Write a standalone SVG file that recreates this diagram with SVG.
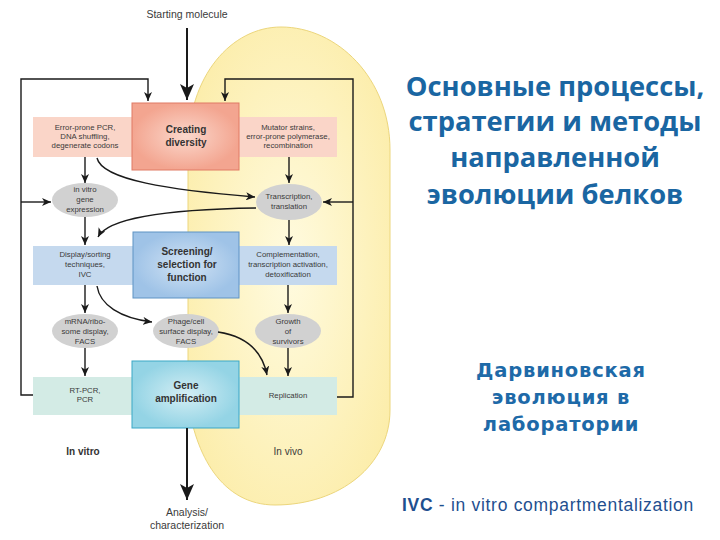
<svg xmlns="http://www.w3.org/2000/svg" width="720" height="540" viewBox="0 0 720 540">
<defs>
<style>
.ln{fill:none;stroke:#1a1a1a;stroke-width:1.4}
.big{fill:none;stroke:#1a1a1a;stroke-width:2}
.t{font-family:"Liberation Sans",Arial,sans-serif;font-size:7.8px;fill:#3a3a3a;text-anchor:middle}
.h{font-family:"Liberation Sans",Arial,sans-serif;font-size:10px;font-weight:bold;fill:#333;text-anchor:middle}
.ell{fill:#d1d1d1}
.title{font-family:"Open Sans","DejaVu Sans",sans-serif;font-weight:bold;font-size:27.3px;fill:#1a66a2;text-anchor:middle}
.sub{font-family:"DejaVu Sans",Verdana,sans-serif;font-weight:bold;font-size:19.5px;letter-spacing:0.8px;fill:#1e6aa8;text-anchor:middle}
</style>
<radialGradient id="gY" cx="50%" cy="50%" r="60%"><stop offset="0" stop-color="#fffbe0"/><stop offset="1" stop-color="#fcedaa"/></radialGradient>
<radialGradient id="gR"><stop offset="0" stop-color="#fbd8cc"/><stop offset="1" stop-color="#f3a590"/></radialGradient>
<radialGradient id="gB"><stop offset="0" stop-color="#d2e3f4"/><stop offset="1" stop-color="#9fc3e7"/></radialGradient>
<radialGradient id="gC"><stop offset="0" stop-color="#d4eef4"/><stop offset="1" stop-color="#94d4e5"/></radialGradient>
<marker id="a" markerUnits="userSpaceOnUse" markerWidth="9" markerHeight="8" refX="9" refY="4" orient="auto"><path d="M0,0 L9,4 L0,8 L2.5,4 Z" fill="#1a1a1a"/></marker>
<marker id="A" markerUnits="userSpaceOnUse" markerWidth="16" markerHeight="14" refX="16" refY="7" orient="auto"><path d="M0,0 L16,7 L0,14 L4,7 Z" fill="#1a1a1a"/></marker>
</defs>
<rect width="720" height="540" fill="#ffffff"/>

<g id="in-vivo-region">
<path d="M188,150 C188,75 232,27 281,27 C337,27 390,78 390,150 L390,410 C390,465 340,505 275,505 C222,505 195,455 188,400 Z" fill="url(#gY)" stroke="#ecd67c" stroke-width="1"/>
</g>

<g id="bands">
<rect x="33" y="117" width="304" height="40" fill="#fad5c8"/>
<rect x="33" y="246" width="304" height="39" fill="#c5d9ee"/>
<rect x="33" y="377" width="304" height="38" fill="#d3ebe5"/>
</g>

<g id="starting-molecule"><text class="t" x="187" y="18" style="font-size:10.5px">Starting molecule</text></g>

<g id="creating-diversity">
<rect x="132" y="103" width="107" height="67" fill="url(#gR)" stroke="#e07a64" stroke-width="1"/>
<text class="h" x="186" y="133">Creating</text>
<text class="h" x="186" y="146">diversity</text>
</g>
<g id="in-vitro-diversity">
<text class="t" x="85" y="130">Error-prone PCR,</text>
<text class="t" x="85" y="139">DNA shuffling,</text>
<text class="t" x="85" y="148">degenerate codons</text>
</g>
<g id="in-vivo-diversity">
<text class="t" x="288" y="130">Mutator strains,</text>
<text class="t" x="288" y="139">error-prone polymerase,</text>
<text class="t" x="288" y="148">recombination</text>
</g>

<g id="gene-expression">
<ellipse class="ell" cx="85" cy="200" rx="33" ry="17"/>
<text class="t" x="85" y="192">in vitro</text>
<text class="t" x="85" y="202">gene</text>
<text class="t" x="85" y="212">expression</text>
</g>
<g id="transcription">
<ellipse class="ell" cx="289" cy="202" rx="33" ry="18"/>
<text class="t" x="289" y="199">Transcription,</text>
<text class="t" x="289" y="209">translation</text>
</g>

<g id="screening">
<rect x="133" y="232" width="106" height="66" fill="url(#gB)" stroke="#5f93c4" stroke-width="1"/>
<text class="h" x="187" y="255">Screening/</text>
<text class="h" x="187" y="268">selection for</text>
<text class="h" x="187" y="281">function</text>
</g>
<g id="display-sorting">
<text class="t" x="85" y="257">Display/sorting</text>
<text class="t" x="85" y="267">techniques,</text>
<text class="t" x="85" y="277">IVC</text>
</g>
<g id="complementation">
<text class="t" x="288" y="257">Complementation,</text>
<text class="t" x="288" y="267">transcription activation,</text>
<text class="t" x="288" y="277">detoxification</text>
</g>

<g id="mrna-display">
<ellipse class="ell" cx="85" cy="331" rx="33" ry="17"/>
<text class="t" x="85" y="324">mRNA/ribo-</text>
<text class="t" x="85" y="334">some display,</text>
<text class="t" x="85" y="344">FACS</text>
</g>
<g id="phage-display">
<ellipse class="ell" cx="186" cy="331" rx="33" ry="17"/>
<text class="t" x="186" y="324">Phage/cell</text>
<text class="t" x="186" y="334">surface display,</text>
<text class="t" x="186" y="344">FACS</text>
</g>
<g id="growth">
<ellipse class="ell" cx="288" cy="331" rx="33" ry="17"/>
<text class="t" x="288" y="324">Growth</text>
<text class="t" x="288" y="334">of</text>
<text class="t" x="288" y="344">survivors</text>
</g>

<g id="gene-amplification">
<rect x="132" y="361" width="107" height="67" fill="url(#gC)" stroke="#3aa7c6" stroke-width="1"/>
<text class="h" x="186" y="389">Gene</text>
<text class="h" x="186" y="402">amplification</text>
</g>
<g id="rt-pcr">
<text class="t" x="85" y="393">RT-PCR,</text>
<text class="t" x="85" y="402">PCR</text>
</g>
<g id="replication"><text class="t" x="288" y="398">Replication</text></g>

<g id="labels">
<text class="h" x="83" y="455">In vitro</text>
<text class="t" x="288" y="455" style="font-size:10px">In vivo</text>
</g>
<g id="analysis">
<text class="t" x="187" y="516" style="font-size:10.5px">Analysis/</text>
<text class="t" x="187" y="529" style="font-size:10.5px">characterization</text>
</g>

<g id="connectors">
<path class="big" d="M187,28 L187,100" marker-end="url(#A)"/>
<path class="ln" d="M33,395 L21,395 L21,79 L148,79 L148,101" marker-end="url(#a)"/>
<path class="ln" d="M21,202 L51,202" marker-end="url(#a)"/>
<path class="ln" d="M337,397 L353,397 L353,79 L225,79 L225,101" marker-end="url(#a)"/>
<path class="ln" d="M353,202 L323,202" marker-end="url(#a)"/>
<path class="ln" d="M85,157 L85,183" marker-end="url(#a)"/>
<path class="ln" d="M289,157 L289,183" marker-end="url(#a)"/>
<path class="ln" d="M97,158 C102,180 170,190 255,197" marker-end="url(#a)"/>
<path class="ln" d="M256,208 C190,209 110,214 98,237" marker-end="url(#a)"/>
<path class="ln" d="M85,217 L85,245" marker-end="url(#a)"/>
<path class="ln" d="M289,220 L289,245" marker-end="url(#a)"/>
<path class="ln" d="M85,285 L85,313" marker-end="url(#a)"/>
<path class="ln" d="M97,286 C100,305 120,318 152,322" marker-end="url(#a)"/>
<path class="ln" d="M288,285 L288,313" marker-end="url(#a)"/>
<path class="ln" d="M85,348 L85,376" marker-end="url(#a)"/>
<path class="ln" d="M288,348 L288,376" marker-end="url(#a)"/>
<path class="ln" d="M218,332 C245,336 262,350 267,375" marker-end="url(#a)"/>
<path class="big" d="M187,428 L187,500" marker-end="url(#A)"/>
</g>

<g id="title">
<text class="title" x="555" y="96">Основные процессы,</text>
<text class="title" x="555" y="131">стратегии и методы</text>
<text class="title" x="555" y="167">направленной</text>
<text class="title" x="555" y="204">эволюции белков</text>
</g>
<g id="subtitle">
<text class="sub" x="561" y="377">Дарвиновская</text>
<text class="sub" x="561" y="404">эволюция в</text>
<text class="sub" x="561" y="431">лаборатории</text>
</g>
<g id="note">
<text x="402" y="511" style="font-family:'Liberation Sans',Arial,sans-serif;font-size:17.5px;letter-spacing:0.7px;fill:#1f4f8f"><tspan font-weight="bold">IVC</tspan> - in vitro compartmentalization</text>
</g>
</svg>
